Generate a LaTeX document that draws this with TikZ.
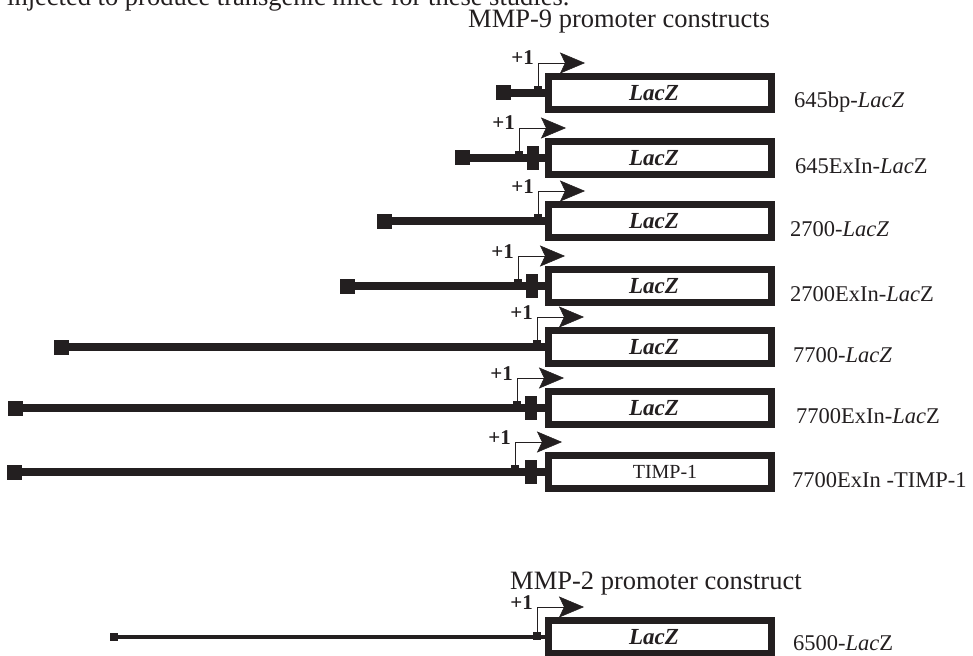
\documentclass[tikz,border=0pt]{standalone}
\usepackage{fontspec}
\setmainfont{Liberation Serif}
\usetikzlibrary{arrows.meta}
\definecolor{ink}{HTML}{231F20}
\tikzset{
  genebox/.style={draw=ink, line width=7pt, fill=white, minimum width=223pt, minimum height=33pt, inner sep=0pt},
  endsq/.style={fill=ink, minimum size=15pt, inner sep=0pt},
  smallsq/.style={fill=ink, minimum size=8pt, inner sep=0pt},
  exinblk/.style={fill=ink, minimum width=12pt, minimum height=24pt, inner sep=0pt},
  tickmark/.style={fill=ink, minimum width=8pt, minimum height=3pt, inner sep=0pt},
  dnaline/.style={draw=ink, line width=8pt},
  thindna/.style={draw=ink, line width=4pt},
  promline/.style={draw=ink, line width=0.9pt, -{Stealth[length=25pt,width=21pt,inset=5pt,fill=ink,line width=0.5pt]}},
  plusone/.style={anchor=base east, inner sep=0pt, font=\fontsize{21}{25}\selectfont\bfseries, text=ink},
  lbl/.style={anchor=base west, inner sep=0pt, font=\fontsize{22.5}{27}\selectfont, text=ink},
  ttl/.style={anchor=base west, inner sep=0pt, font=\fontsize{26.5}{31}\selectfont, text=ink},
  boxtxt/.style={inner sep=0pt, text=ink}
}
\newcommand\laczbox{\fontsize{23}{27}\selectfont\bfseries\itshape LacZ}
\newcommand\conrow[8]{%
  \node[endsq] (s#1) at (#3,#2) {};
  \draw[dnaline] (s#1.center) -- ({548.5},#2) coordinate (j#1);
  \node[genebox] (b#1) at (660,#2) {};
  \node[tickmark] (t#1) at (#4,{#2-5.5}) {};
  \coordinate (a#1) at ({#4+47},{#2-30});
  \draw[promline] (t#1.north) |- (a#1);
  \node[plusone] (o#1) at ({#4-4},{#2-28}) {+1};
  \node[lbl] (l#1) at (#5,{#2+15}) {#6};
  \node[boxtxt] (x#1) at (#8,#2) {#7};
}
\begin{document}
\begin{tikzpicture}[x=1pt,y=-1pt]
\useasboundingbox (0,0) rectangle (973,655);
\node[ttl] (intro) at (7,6) {injected to produce transgenic mice for these studies.};
\node[ttl] (t9) at (468,28) {MMP-9 promoter constructs};

\conrow{1}{93}{503.5}{538}{794}{645bp-\textit{LacZ}}{\laczbox}{654}
\conrow{2}{158}{462}{519}{795}{645ExIn-\textit{Lac}Z}{\laczbox}{654}
\node[exinblk] (e2) at (533,158) {};
\conrow{3}{221}{384.5}{538}{790}{2700-\textit{LacZ}}{\laczbox}{654}
\conrow{4}{286}{347.5}{518}{790}{2700ExIn-\textit{Lac}Z}{\laczbox}{654}
\node[exinblk] (e4) at (532,286) {};
\conrow{5}{347}{61.5}{537}{793}{7700-\textit{LacZ}}{\laczbox}{654}
\conrow{6}{408}{15.5}{517}{796}{7700ExIn-\textit{Lac}Z}{\laczbox}{654}
\node[exinblk] (e6) at (530.5,408) {};
\conrow{7}{472}{14.5}{515}{792}{7700ExIn -TIMP-1}{\fontsize{20}{24}\selectfont TIMP-1}{665}
\node[exinblk] (e7) at (530.5,472) {};

\node[ttl] (t2) at (510,589) {MMP-2 promoter construct};
\node[smallsq] (s8) at (114,637) {};
\draw[thindna] (s8.center) -- (548.5,637) coordinate (j8);
\node[genebox] (b8) at (660,637) {};
\node[smallsq] (t8) at (537,636) {};
\coordinate (a8) at (584,607);
\draw[promline] (t8.north) |- (a8);
\node[plusone] (o8) at (533,609) {+1};
\node[lbl] (l8) at (793,650) {6500-\textit{Lac}Z};
\node[boxtxt] (x8) at (654,637) {\laczbox};
\end{tikzpicture}
\end{document}
